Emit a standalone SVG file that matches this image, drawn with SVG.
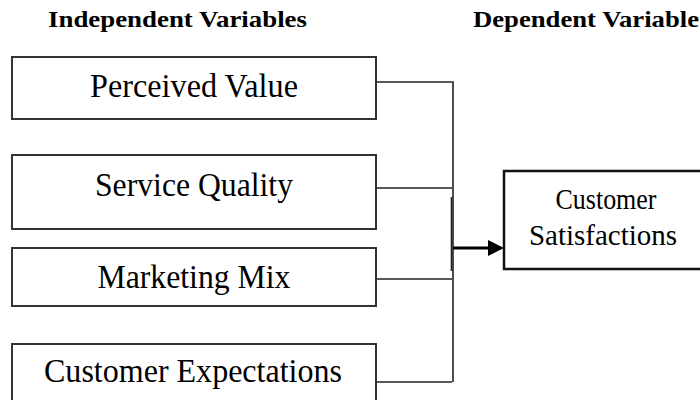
<svg xmlns="http://www.w3.org/2000/svg" width="700" height="400" viewBox="0 0 700 400">
<defs>
<style>
text{font-family:'Liberation Serif','Times New Roman',Times,serif;fill:#000}
.hdr{font-weight:bold;font-size:23px}
.lbl{font-size:33px;text-anchor:middle}
.lbl2{font-size:29px;text-anchor:middle}
.box{fill:#fff;stroke:#333;stroke-width:2}
.box2{fill:#fff;stroke:#111;stroke-width:2.5}
.conn{stroke:#222;stroke-width:1.6;fill:none}
</style>
</defs>
<rect width="700" height="400" fill="#fff"/>
<g id="headers">
<text class="hdr" x="48" y="27" textLength="259" lengthAdjust="spacingAndGlyphs">Independent Variables</text>
<text class="hdr" x="473" y="27" textLength="226" lengthAdjust="spacingAndGlyphs">Dependent Variable</text>
</g>
<g id="connectors">
<path class="conn" d="M376,82 H453 V382"/>
<path class="conn" d="M376,188 H452"/>
<path class="conn" d="M376,279 H452"/>
<path class="conn" d="M376,382 H452"/>
<path class="conn" d="M451.5,197 V271" stroke-width="2.2"/>
<path d="M453,248 H490" stroke="#000" stroke-width="3" fill="none"/>
<polygon points="488,240 504,248 488,256" fill="#000"/>
</g>
<g id="perceived-value">
<rect class="box" x="12" y="57" width="364" height="62"/>
<text class="lbl" x="194" y="97" textLength="208" lengthAdjust="spacingAndGlyphs">Perceived Value</text>
</g>
<g id="service-quality">
<rect class="box" x="12" y="155" width="364" height="74"/>
<text class="lbl" x="194" y="196" textLength="198" lengthAdjust="spacingAndGlyphs">Service Quality</text>
</g>
<g id="marketing-mix">
<rect class="box" x="12" y="248" width="364" height="58"/>
<text class="lbl" x="194" y="288" textLength="193" lengthAdjust="spacingAndGlyphs">Marketing Mix</text>
</g>
<g id="customer-expectations">
<rect class="box" x="12" y="344" width="364" height="70"/>
<text class="lbl" x="193" y="382" textLength="298" lengthAdjust="spacingAndGlyphs">Customer Expectations</text>
</g>
<g id="customer-satisfactions">
<rect class="box2" x="504" y="171" width="210" height="98"/>
<text class="lbl2" x="606" y="209" textLength="101" lengthAdjust="spacingAndGlyphs">Customer</text>
<text class="lbl2" x="603" y="245" textLength="148" lengthAdjust="spacingAndGlyphs">Satisfactions</text>
</g>
</svg>
